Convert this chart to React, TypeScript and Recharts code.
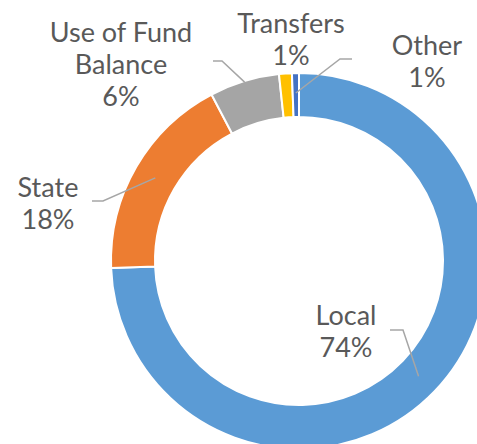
import React from 'react';
import { PieChart, Pie, Cell } from 'recharts';

const categories = ['Local', 'State', 'Use of Fund Balance', 'Transfers', 'Other'];
const values = [74.4, 17.9, 6.0, 1.1, 0.6];
const colors = ['#5B9BD5', '#ED7D31', '#A5A5A5', '#FFC000', '#4472C4'];
const labelLines: string[][] = [['Local'], ['State'], ['Use of Fund', 'Balance'], ['Transfers'], ['Other']];

const data = categories.map((name, i) => ({ name, value: values[i] }));

// label layout: text centre x, first line y (baseline), leader start points, leader end radius
const labelLayout = [
  { x: 346, y: 325, leader: [[390, 330], [403, 330]], r: 166 },
  { x: 48, y: 197, leader: [[92, 201], [103, 201]], r: 166 },
  { x: 121, y: 42, leader: [[213, 61], [222, 61]], r: 187 },
  { x: 291, y: 33, leader: null, r: 0 },
  { x: 427, y: 55, leader: [[352, 59], [340, 59]], r: 168 },
];

const RAD = Math.PI / 180;
const LINE_H = 32;

const renderLabel = (props: any) => {
  const { cx, cy, midAngle, index, percent } = props;
  const lay = labelLayout[index];
  const lines = [...labelLines[index], `${Math.round(percent * 100)}%`];
  let path = null;
  if (lay.leader) {
    const ex = cx + lay.r * Math.cos(-midAngle * RAD);
    const ey = cy + lay.r * Math.sin(-midAngle * RAD);
    const d = `M${lay.leader[0][0]},${lay.leader[0][1]} L${lay.leader[1][0]},${lay.leader[1][1]} L${ex},${ey}`;
    path = <path d={d} stroke="#A6A6A6" strokeWidth={1.5} fill="none" />;
  }
  return (
    <g key={`lab-${index}`}>
      {path}
      {lines.map((t, k) => (
        <text
          key={k}
          x={lay.x}
          y={lay.y + k * LINE_H}
          textAnchor="middle"
          fill="#595959"
          fontSize={27}
          fontFamily="Lato"
          fontWeight={400}
        >
          {t}
        </text>
      ))}
    </g>
  );
};

export default function App() {
  return (
    <div style={{ position: 'absolute', left: 0, top: 0, width: 477, height: 444, background: '#fff' }}>
      <PieChart width={477} height={444} margin={{ top: 0, right: 0, bottom: 0, left: 0 }}>
        <Pie
          data={data}
          dataKey="value"
          nameKey="name"
          cx={299}
          cy={261}
          innerRadius={144}
          outerRadius={188}
          startAngle={90}
          endAngle={-270}
          stroke="#FFFFFF"
          strokeWidth={2}
          label={renderLabel}
          labelLine={false}
          isAnimationActive={false}
        >
          {data.map((d, i) => (
            <Cell key={d.name} fill={colors[i]} />
          ))}
        </Pie>
      </PieChart>
    </div>
  );
}
